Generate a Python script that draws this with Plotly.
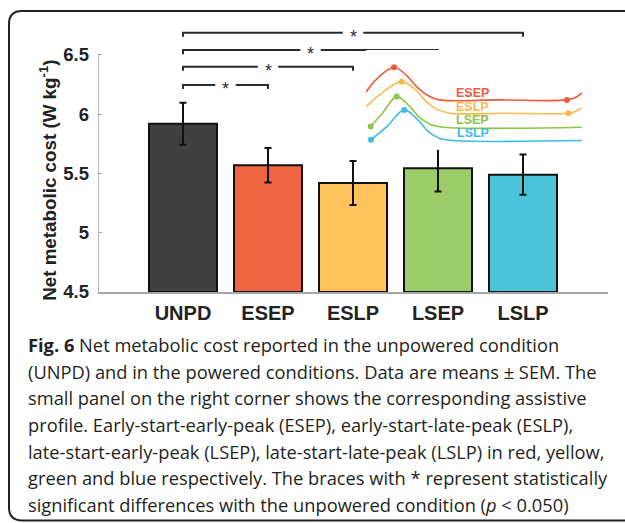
import plotly.graph_objects as go

# ---------------- data ----------------
categories = ["UNPD", "ESEP", "ESLP", "LSEP", "LSLP"]
means = [5.92, 5.57, 5.42, 5.545, 5.49]
sems = [0.177, 0.145, 0.186, 0.197, 0.17]
bar_colors = ["#404040", "#ef6441", "#fec35b", "#9ccd68", "#4bc4da"]

# significance braces: from UNPD (index 1) to the listed bar
brace_from = 1
brace_to = [2, 3, 4, 5]
brace_y = [6.247, 6.401, 6.542, 6.688]

# inset: assistive profiles (gait cycle %, arbitrary stacked units)
profile_names = ["ESEP", "ESLP", "LSEP", "LSLP"]
profile_colors = ["#f05a3c", "#fdb94e", "#8dc549", "#3ebde0"]
esep_x = [0, 6, 13, 19, 24, 29, 34, 62, 93, 97, 100]
esep_y = [58, 73, 82.7, 74, 62, 54, 50, 50, 50, 52.5, 57]
eslp_x = [0, 8, 16.5, 23, 28, 33, 39, 65, 93.7, 97, 100]
eslp_y = [43, 58, 68.3, 60, 48, 40.5, 36.7, 36.7, 36.7, 38.5, 42]
lsep_x = [2.2, 8, 14.2, 20, 25, 30, 36, 100]
lsep_y = [23.3, 38, 53.3, 44, 32, 25.5, 22.7, 22.7]
lslp_x = [2.3, 10, 17.7, 24, 29, 34, 40, 100]
lslp_y = [10, 24, 40, 30, 18, 11.5, 9.3, 9.3]
esep_mk = ([13, 93], [82.7, 50])
eslp_mk = ([16.5, 93.7], [68.3, 36.7])
lsep_mk = ([2.2, 14.2], [23.3, 53.3])
lslp_mk = ([2.3, 17.7], [10, 40])
label_x = 49.5
label_y = [56.7, 43.3, 30, 16.7]

caption_lines = [
    "<b>Fig. 6</b> Net metabolic cost reported in the unpowered condition",
    "(UNPD) and in the powered conditions. Data are means ± SEM. The",
    "small panel on the right corner shows the corresponding assistive",
    "profile. Early-start-early-peak (ESEP), early-start-late-peak (ESLP),",
    "late-start-early-peak (LSEP), late-start-late-peak (LSLP) in red, yellow,",
    "green and blue respectively. The braces with * represent statistically",
    "significant differences with the unpowered condition (<i>p</i> < 0.050)",
]

# ---------------- layout geometry (screen pixels) ----------------
W, H = 625, 523
PLOT_L, PLOT_R, PLOT_T, PLOT_B = 98, 608, 25, 292.3
ML, MT, MR, MB = PLOT_L, PLOT_T, W - PLOT_R, H - PLOT_B
PW, PH = W - ML - MR, H - MT - MB


def pxx(px):
    return (px - PLOT_L) / PW


def pxy(py):
    return (PLOT_B - py) / PH


fig = go.Figure()

xs = list(range(1, len(categories) + 1))
fig.add_trace(go.Bar(
    x=xs, y=[m - 4.5 for m in means], base=4.5, width=0.8,
    marker=dict(color=bar_colors, line=dict(color="#111111", width=2)),
    error_y=dict(type="data", array=sems, color="#111111", thickness=2, width=3.5),
    showlegend=False, hoverinfo="skip",
))

# braces
gap = 0.12
drop = 0.035
for xt, yb in zip(brace_to, brace_y):
    xm = (brace_from + xt) / 2
    fig.add_trace(go.Scatter(
        x=[brace_from, brace_from, xm - gap, None, xm + gap, xt, xt],
        y=[yb - drop, yb, yb, None, yb, yb, yb - drop],
        mode="lines", line=dict(color="#2b2b2b", width=2),
        showlegend=False, hoverinfo="skip",
    ))
    fig.add_annotation(x=xm, y=yb, xref="x", yref="y", text="*", showarrow=False,
                       xanchor="center", yanchor="middle", yshift=-4,
                       font=dict(family="Liberation Sans", size=18, color="#2b2b2b"))

# inset profiles
curves = [(esep_x, esep_y, esep_mk), (eslp_x, eslp_y, eslp_mk),
          (lsep_x, lsep_y, lsep_mk), (lslp_x, lslp_y, lslp_mk)]
for (cx, cy, mk), col in zip(curves, profile_colors):
    fig.add_trace(go.Scatter(x=cx, y=cy, mode="lines",
                             line=dict(color=col, width=1.6, shape="spline", smoothing=1.0),
                             xaxis="x2", yaxis="y2", showlegend=False, hoverinfo="skip"))
    fig.add_trace(go.Scatter(x=mk[0], y=mk[1], mode="markers", marker=dict(color=col, size=6),
                             xaxis="x2", yaxis="y2", showlegend=False, hoverinfo="skip"))
for name, col, ly in zip(profile_names, profile_colors, label_y):
    fig.add_annotation(x=label_x, y=ly, xref="x2", yref="y2", text="<b>" + name + "</b>",
                       showarrow=False, xanchor="center", yanchor="middle",
                       font=dict(family="Liberation Sans", size=12.5, color=col))

# y axis line only from 4.5 to 6.5
fig.add_shape(type="line", xref="x", yref="y", x0=0, x1=0, y0=4.5, y1=6.5,
              line=dict(color="#a6a6a6", width=1.5))

# y axis title
fig.add_annotation(x=pxx(48), y=pxy(181), xref="paper", yref="paper",
                   text="<b>Net metabolic cost (W kg<sup>-1</sup>)</b>", textangle=-90,
                   showarrow=False, xanchor="center", yanchor="middle",
                   font=dict(family="Liberation Sans", size=18.8, color="#222222"))

# caption
line_y = [345, 371.7, 398.3, 425, 451.7, 478.3, 505]
for t, ly in zip(caption_lines, line_y):
    fig.add_annotation(x=pxx(26), y=pxy(ly), xref="paper", yref="paper", text=t,
                       showarrow=False, xanchor="left", yanchor="middle",
                       font=dict(family="Open Sans", size=18.3, color="#231f20"))

# rounded frame (open on the right: it runs off the page there)
l, t, r, b, rad = 9, 11, 640, 521, 13


def P(px, py):
    return f"{pxx(px):.5f},{pxy(py):.5f}"


path = (f"M {P(r, t)} L {P(l + rad, t)} Q {P(l, t)} {P(l, t + rad)} "
        f"L {P(l, b - rad)} Q {P(l, b)} {P(l + rad, b)} L {P(r, b)}")
fig.add_shape(type="path", xref="paper", yref="paper", path=path,
              line=dict(color="#222222", width=2), fillcolor="rgba(0,0,0,0)", layer="above")

fig.update_layout(
    width=W, height=H, margin=dict(l=ML, r=MR, t=MT, b=MB),
    paper_bgcolor="white", plot_bgcolor="white",
    xaxis=dict(range=[0, 6], tickvals=xs, ticktext=["<b>" + c + "</b>" for c in categories],
               showgrid=False, zeroline=False, showline=True, linecolor="#a6a6a6", linewidth=1.5,
               ticks="", ticklabelstandoff=2,
               tickfont=dict(family="Liberation Sans", size=20, color="#222222")),
    yaxis=dict(range=[4.5, 6.753], tickvals=[4.5, 5, 5.5, 6, 6.5],
               ticktext=["<b>4.5</b>", "<b>5</b>", "<b>5.5</b>", "<b>6</b>", "<b>6.5</b>"],
               showgrid=False, zeroline=False, showline=False, ticks="inside", ticklen=4,
               tickcolor="#a6a6a6", tickwidth=1.2, ticklabelstandoff=8,
               tickfont=dict(family="Liberation Sans", size=18.5, color="#222222")),
    xaxis2=dict(domain=[pxx(366), pxx(582)], range=[0, 100], anchor="y2", visible=False, fixedrange=True),
    yaxis2=dict(domain=[pxy(150), pxy(50)], range=[0, 100], anchor="x2", visible=False, fixedrange=True),
    showlegend=False,
)

fig.write_html(
    "out.html",
    config={"displayModeBar": False},
    post_script=("document.body.style.margin='0';"
                 "document.body.style.overflow='hidden';"
                 "document.documentElement.style.overflow='hidden';"),
)
